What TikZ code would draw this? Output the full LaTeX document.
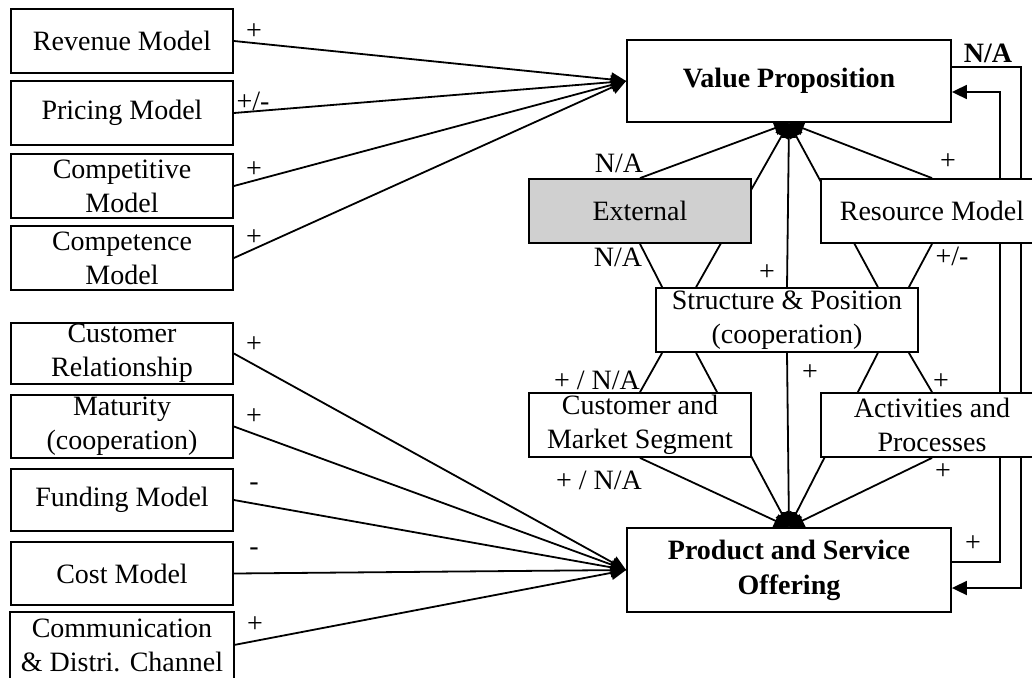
\documentclass[tikz,border=0pt]{standalone}
\usepackage{fontspec}
\setmainfont{Liberation Serif}
\usetikzlibrary{arrows.meta}
\pgfdeclarelayer{back}
\pgfsetlayers{back,main}
\definecolor{extgray}{RGB}{208,208,208}
\begin{document}
\begin{tikzpicture}[x=1pt,y=-1pt,
  txt/.style={font=\fontsize{28}{34}\selectfont},
  box/.style={txt,draw,line width=1.8pt,fill=white,inner sep=0pt,align=center},
  sidebox/.style={box,minimum width=222pt,minimum height=64pt},
  mainbox/.style={box,font=\bfseries\fontsize{28}{35}\selectfont,minimum width=324pt},
  link/.style={line width=1.8pt},
  arr/.style={link,-{Triangle[length=15pt,width=14pt]}},
  lbl/.style={txt,inner sep=0pt},
]
\useasboundingbox (0,0) rectangle (1032,677);

% left column: drivers of the value proposition
\node[sidebox] (rev) at (122,41) {Revenue Model};
\node[sidebox] (pri) at (122,113) {Pricing Model};
\node[sidebox] (cpt) at (122,186) {Competitive\\Model};
\node[sidebox] (cmp) at (122,258) {Competence\\Model};

% left column: drivers of the offering
\node[sidebox,minimum height=61pt] (cr) at (122,353.5) {Customer\\Relationship};
\node[sidebox,minimum height=63pt] (mat) at (122,426.5) {Maturity\\(cooperation)};
\node[sidebox,minimum height=62pt] (fun) at (122,500) {Funding Model};
\node[sidebox,minimum height=63pt] (cost) at (122,573.5) {Cost Model};
\node[sidebox,draw=none] (com) at (122,645) {Communication\\\& Distri. Channel};
\draw[link] ([yshift=-14pt]com.south west) |- (com.north east) -- ([yshift=-14pt]com.south east);

% central hub
\node[mainbox,minimum height=82pt] (vp) at (789,81) {Value Proposition};
\node[mainbox,minimum height=84pt] (pso) at (789,570) {Product and Service\\Offering};

\node[sidebox,fill=extgray] (ext) at (640,211) {External};
\node[sidebox] (res) at (932,211) {Resource Model};
\node[box,minimum width=262pt,minimum height=64pt] (sp) at (787,320) {Structure \& Position\\(cooperation)};
\node[sidebox] (cus) at (640,425) {Customer and\\Market Segment};
\node[sidebox] (act) at (932,425) {Activities and\\Processes};

% connectors run behind the boxes
\begin{pgfonlayer}{back}
\foreach \n in {rev,pri,cpt,cmp} \draw[arr] (\n.east) -- (vp.west);
\foreach \n in {cr,mat,fun,cost,com} \draw[arr] (\n.east) -- (pso.west);

\draw[arr] (ext.north) -- (vp.south);
\draw[arr] ([xshift=41pt]sp.north west) -- (vp.south);
\draw[arr] (sp.north) -- (vp.south);
\draw[arr] ([xshift=-41pt]sp.north east) -- (vp.south);
\draw[arr] (res.north) -- (vp.south);

\draw[link] (ext.south) -- ([xshift=7pt]sp.north west);
\draw[link] (res.south) -- ([xshift=-10pt]sp.north east);
\draw[link] ([xshift=7pt]sp.south west) -- (cus.north);
\draw[link] ([xshift=-10pt]sp.south east) -- (act.north);

\draw[arr] ([xshift=41pt]sp.south west) -- (pso.north);
\draw[arr] (sp.south) -- (pso.north);
\draw[arr] ([xshift=-41pt]sp.south east) -- (pso.north);
\draw[arr] (cus.south) -- (pso.north);
\draw[arr] (act.south) -- (pso.north);

% feedback loop between proposition and offering
\draw[arr] ([yshift=14pt]vp.east) -- ++(69,0) |- ([yshift=-18pt]pso.east);
\draw[arr] ([yshift=8pt]pso.east) -- ++(48,0) |- ([yshift=-11pt]vp.east);
\end{pgfonlayer}

% influence signs
\node[lbl] (srev) at (254,32) {+};
\node[lbl] (spri) at (253,101) {+/-};
\node[lbl] (scpt) at (254,170) {+};
\node[lbl] (scmp) at (254,238) {+};
\node[lbl] (scr) at (254,345) {+};
\node[lbl] (smat) at (254,417) {+};
\node[lbl] (sfun) at (254,487) {-};
\node[lbl] (scost) at (254,552) {-};
\node[lbl] (scom) at (255,625) {+};

\node[lbl] (sext1) at (619,163) {N/A};
\node[lbl] (sres1) at (948,162) {+};
\node[lbl] (sext2) at (618,257) {N/A};
\node[lbl] (ssp1) at (767,273) {+};
\node[lbl] (sres2) at (952,256) {+/-};
\node[lbl] (scus1) at (597,380) {+ / N/A};
\node[lbl] (ssp2) at (810,373) {+};
\node[lbl] (sact1) at (941,382) {+};
\node[lbl] (scus2) at (599,480) {+ / N/A};
\node[lbl] (sact2) at (943,472) {+};
\node[lbl] (sloop1) at (973,544) {+};
\node[lbl,font=\bfseries\fontsize{28}{34}\selectfont] (sloop2) at (988,53) {N/A};
\end{tikzpicture}
\end{document}
